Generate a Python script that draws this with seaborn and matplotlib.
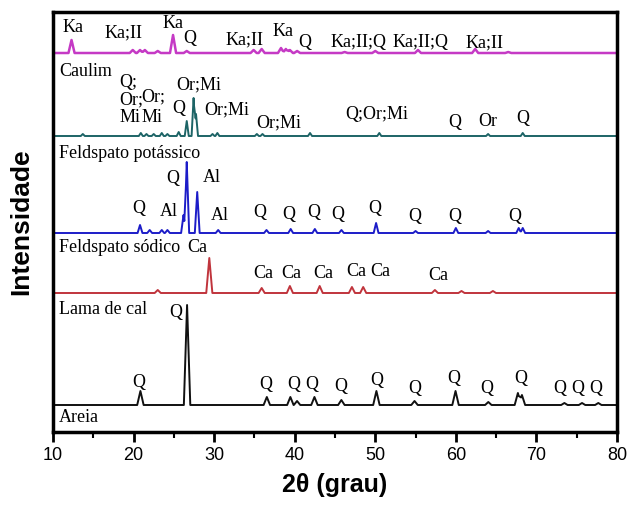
import numpy as np
import pandas as pd
import matplotlib
matplotlib.use("Agg")
import matplotlib.pyplot as plt
import seaborn as sns

# peak positions (2theta) and heights (arb. units)
areia_pos = [20.85, 26.64, 36.54, 39.46, 40.29, 42.45, 45.79, 50.14, 54.87, 59.96, 64.03, 67.7, 68.2, 73.47, 75.66, 77.68]
areia_h = [14, 100, 8, 8, 4, 8, 5, 14, 4, 14, 3, 12, 10, 2, 2, 2]

lama_pos = [23.0, 29.4, 35.9, 39.4, 43.1, 47.1, 48.5, 57.4, 60.7, 64.6]
lama_h = [3, 35, 5, 7, 7, 6, 6, 3, 2, 2]

sodico_pos = [20.8, 22.0, 23.5, 24.2, 26.2, 26.6, 27.9, 30.5, 36.5, 39.5, 42.5, 45.8, 50.1, 55.0, 60.0, 64.0, 67.8, 68.3]
sodico_h = [8, 3, 3, 3, 18, 71, 41, 3, 3, 4, 4, 3, 10, 2, 5, 2, 5, 5]

potassico_pos = [13.7, 20.9, 21.6, 22.5, 23.5, 24.2, 25.6, 26.6, 27.45, 27.75, 29.8, 30.4, 35.3, 36.0, 41.9, 50.5, 64.0, 68.3]
potassico_h = [2, 3, 2, 2, 3, 2, 4, 15, 38, 22, 2, 3, 2, 2, 3, 3, 2, 3]

caulim_pos = [12.3, 19.9, 20.8, 21.4, 23.0, 24.9, 26.6, 34.9, 35.9, 38.3, 38.9, 39.4, 40.3, 46.2, 50.0, 55.3, 62.4, 66.5]
caulim_h = [13, 3, 3, 3, 2, 18, 2, 3, 4, 5, 4, 3, 2, 1, 2, 3, 4, 1]

# sample names
names = ["Areia", "Lama de cal", "Feldspato sódico", "Feldspato potássico", "Caulim"]

# peak labels: (text, 2theta, height on the figure)
areia_labels = [("Q", 20.6, 49), ("Q", 25.2, 120), ("Q", 36.4, 47), ("Q", 39.9, 47), ("Q", 42.1, 47),
                ("Q", 45.7, 45), ("Q", 50.2, 52), ("Q", 54.9, 44), ("Q", 59.8, 53), ("Q", 63.8, 44),
                ("Q", 68.0, 54), ("Q", 72.9, 43), ("Q", 75.1, 43), ("Q", 77.4, 43)]
lama_labels = [("Ca", 27.9, 184), ("Ca", 36.1, 159), ("Ca", 39.6, 159), ("Ca", 43.6, 159),
               ("Ca", 47.6, 160), ("Ca", 50.65, 160), ("Ca", 57.8, 156)]
sodico_labels = [("Q", 20.7, 223), ("Al", 24.4, 220), ("Q", 24.9, 254), ("Al", 29.7, 254), ("Al", 30.7, 217),
                 ("Q", 35.6, 220), ("Q", 39.3, 217), ("Q", 42.4, 219), ("Q", 45.4, 217), ("Q", 49.95, 223),
                 ("Q", 54.9, 215), ("Q", 59.9, 215), ("Q", 67.3, 215)]
potassico_labels = [("Q;", 19.3, 350), ("Or;", 19.7, 332), ("Mi", 19.6, 315), ("Or;", 22.5, 335), ("Mi", 22.3, 315),
                    ("Q", 25.6, 324), ("Or;Mi", 28.1, 347), ("Or;Mi", 31.6, 322), ("Or;Mi", 37.95, 309),
                    ("Q;Or;Mi", 50.2, 317), ("Q", 59.9, 310), ("Or", 64.0, 310), ("Q", 68.3, 314)]
caulim_labels = [("Ka", 12.5, 404), ("Ka;II", 18.7, 399), ("Ka", 24.9, 409), ("Q", 27.0, 393),
                 ("Ka;II", 33.8, 392), ("Ka", 38.6, 400), ("Q", 41.3, 389), ("Ka;II;Q", 47.9, 389),
                 ("Ka;II;Q", 55.6, 389), ("Ka;II", 63.6, 389)]

# baseline offsets and colours of the stacked curves
offsets = [27, 139, 199, 296, 379]
colors = ["#111111", "#c0343c", "#1c1cc8", "#1d6466", "#c53ac5"]
name_y = [15, 122, 184, 279, 360]
widths = [0.4, 0.38, 0.3, 0.25, 0.38]


def pattern(pos, h, w):
    # piecewise linear pattern: every peak is a narrow triangle
    xs = sorted({10.0, 80.0} | {p + d for p in pos for d in (-w, 0.0, w)})
    ys = [sum(hi * max(0.0, 1 - abs(x - p) / w) for p, hi in zip(pos, h)) for x in xs]
    return np.array(xs), np.array(ys)


sns.set_theme(style="ticks")
plt.rcParams['font.family'] = ['Liberation Sans', 'DejaVu Sans']
plt.rcParams['text.color'] = 'black'
plt.rcParams['axes.labelcolor'] = 'black'
plt.rcParams['xtick.color'] = 'black'

fig = plt.figure(figsize=(6.35, 5.08), dpi=100)
ax = fig.add_axes([53 / 635, 76 / 508, 564 / 635, 420 / 508])

series = [(areia_pos, areia_h), (lama_pos, lama_h), (sodico_pos, sodico_h),
          (potassico_pos, potassico_h), (caulim_pos, caulim_h)]
all_labels = [areia_labels, lama_labels, sodico_labels, potassico_labels, caulim_labels]

for i, (pos, h) in enumerate(series):
    xs, ys = pattern(pos, h, widths[i])
    df = pd.DataFrame({"x": xs, "y": ys + offsets[i]})
    sns.lineplot(data=df, x="x", y="y", ax=ax, color=colors[i], lw=1.8 if i == 4 else 1.4,
                 estimator=None, sort=False)
    for txt, lx, ly in all_labels[i]:
        ax.text(lx, ly, txt, ha="center", va="center", fontsize=13, family="Liberation Serif", color="black")

# sample names at the left side
for nm, ny in zip(names, name_y):
    ax.text(10.75, ny, nm, ha="left", va="center", fontsize=13, family="Liberation Serif", color="black")

ax.set_xlim(10, 80)
ax.set_ylim(0, 420)
ax.set_xticks(range(10, 81, 10))
ax.set_xticks(range(15, 80, 10), minor=True)
ax.set_yticks([])
ax.tick_params(axis="x", which="major", direction="out", length=7, width=2, labelsize=13, pad=4)
ax.tick_params(axis="x", which="minor", direction="out", length=4, width=1.5)
for sp in ax.spines.values():
    sp.set_linewidth(2.5)
    sp.set_color("black")

ax.set_xlabel("2θ (grau)", fontsize=18, fontweight="bold", labelpad=6)
ax.set_ylabel("Intensidade", fontsize=19, fontweight="bold", labelpad=14)

fig.savefig("out.png", dpi=100)
